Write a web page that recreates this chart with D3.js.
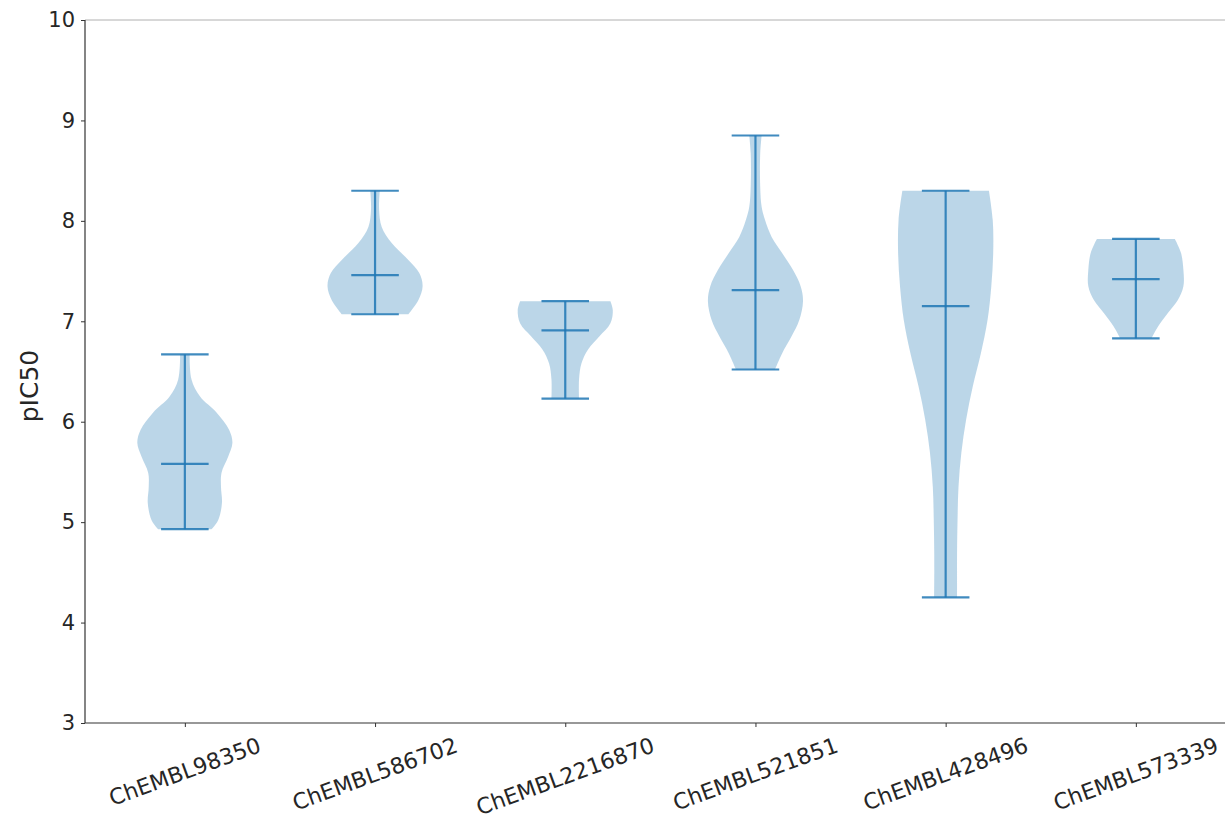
<!DOCTYPE html>
<html>
<head>
<meta charset="utf-8">
<script src="https://cdn.jsdelivr.net/npm/d3@7"></script>
<style>
  html, body { margin: 0; padding: 0; background: #fff; }
  text { font-family: "DejaVu Sans", sans-serif; fill: #262626; }
</style>
</head>
<body>
<svg id="chart" width="1225" height="819"></svg>
<script>
// Compounds on the x axis
const compounds = ["ChEMBL98350", "ChEMBL586702", "ChEMBL2216870", "ChEMBL521851", "ChEMBL428496", "ChEMBL573339"];

// Summary statistics per compound (pIC50)
const minValues  = [4.93, 7.07, 6.23, 6.52, 4.25, 6.83];
const meanValues = [5.58, 7.46, 6.91, 7.31, 7.15, 7.42];
const maxValues  = [6.67, 8.30, 7.20, 8.85, 8.30, 7.82];

// Kernel density profile of each compound: [pIC50, density relative to its peak]
const density98350 = [[6.67,0.10],[6.42,0.14],[6.25,0.32],[6.09,0.67],[5.92,0.93],[5.79,1.00],[5.65,0.91],[5.49,0.77],[5.35,0.76],[5.19,0.78],[5.02,0.70],[4.93,0.56]];
const density586702 = [[8.30,0.10],[8.11,0.085],[7.94,0.14],[7.78,0.35],[7.61,0.70],[7.48,0.93],[7.35,1.00],[7.21,0.91],[7.07,0.70]];
const density2216870 = [[7.20,0.95],[7.11,1.00],[6.98,0.95],[6.85,0.72],[6.72,0.48],[6.58,0.34],[6.42,0.29],[6.23,0.29]];
const density521851 = [[8.85,0.13],[8.67,0.10],[8.34,0.10],[8.14,0.13],[8.01,0.20],[7.84,0.34],[7.68,0.56],[7.51,0.79],[7.35,0.95],[7.20,1.00],[7.01,0.92],[6.85,0.76],[6.68,0.56],[6.52,0.41]];
const density428496 = [[8.30,0.91],[8.01,0.99],[7.68,1.00],[7.35,0.96],[7.01,0.88],[6.68,0.74],[6.35,0.57],[6.02,0.43],[5.69,0.33],[5.35,0.27],[5.02,0.25],[4.69,0.24],[4.25,0.24]];
const density573339 = [[7.82,0.82],[7.68,0.95],[7.51,1.00],[7.35,1.00],[7.21,0.88],[7.08,0.67],[6.95,0.47],[6.83,0.33]];
const densityProfiles = [density98350, density586702, density2216870, density521851, density428496, density573339];

// Y axis ticks
const yTicks = [3, 4, 5, 6, 7, 8, 9, 10];

const svg = d3.select("#chart");
const plotLeft = 85, plotTop = 20, plotBottom = 723;
const violinWidth = 0.5;      // full width of a violin, in position units
const capWidth = violinWidth / 2;

// Positions 1..6 with 5% margins around the violin extents
const x = d3.scaleLinear().domain([0.475, 6.525]).range([plotLeft, plotLeft + 6.05 * 190.2]);
const y = d3.scaleLinear().domain([3, 10]).range([plotBottom, plotTop]);

const blue = "#1f77b4";

// Violin bodies
const area = d3.area()
  .curve(d3.curveCatmullRom.alpha(0.5))
  .y(d => y(d[0]));

densityProfiles.forEach((profile, i) => {
  const pos = i + 1;
  const half = violinWidth / 2;
  svg.append("path")
    .datum(profile)
    .attr("d", area
      .x0(d => x(pos - half * d[1]))
      .x1(d => x(pos + half * d[1])))
    .attr("fill", blue)
    .attr("fill-opacity", 0.3)
    .attr("stroke", "none");
});

// Extrema bars, caps and mean lines
const lineG = svg.append("g")
  .attr("stroke", blue)
  .attr("stroke-opacity", 0.85)
  .attr("stroke-width", 2.2);

compounds.forEach((c, i) => {
  const pos = i + 1;
  lineG.append("line")
    .attr("x1", x(pos)).attr("x2", x(pos))
    .attr("y1", y(minValues[i])).attr("y2", y(maxValues[i]));
  [minValues[i], maxValues[i], meanValues[i]].forEach(v => {
    lineG.append("line")
      .attr("x1", x(pos - capWidth / 2)).attr("x2", x(pos + capWidth / 2))
      .attr("y1", y(v)).attr("y2", y(v));
  });
});

// Spines
svg.append("line").attr("x1", plotLeft).attr("x2", 1225).attr("y1", plotTop).attr("y2", plotTop)
  .attr("stroke", "#b0b0b0").attr("stroke-width", 1);
svg.append("line").attr("x1", plotLeft).attr("x2", 1225).attr("y1", plotBottom).attr("y2", plotBottom)
  .attr("stroke", "#333").attr("stroke-width", 1.2);
svg.append("line").attr("x1", plotLeft).attr("x2", plotLeft).attr("y1", plotTop).attr("y2", plotBottom)
  .attr("stroke", "#333").attr("stroke-width", 1.2);

// Y axis
const yAxis = d3.axisLeft(y).tickValues(yTicks).tickSize(4).tickPadding(6).tickFormat(d3.format("d"));
const yG = svg.append("g").attr("transform", `translate(${plotLeft},0)`).call(yAxis);
yG.select(".domain").remove();
yG.selectAll(".tick line").attr("stroke", "#333");
yG.selectAll(".tick text").style("font-size", "21px").attr("fill", "#262626")
  .style("font-family", "'DejaVu Sans', sans-serif");

// X axis ticks
const xAxis = d3.axisBottom(x).tickValues(d3.range(1, compounds.length + 1)).tickSize(4).tickFormat("");
const xG = svg.append("g").attr("transform", `translate(0,${plotBottom})`).call(xAxis);
xG.select(".domain").remove();
xG.selectAll(".tick line").attr("stroke", "#333");

// Rotated category labels, top of the rotated box aligned below the ticks
const angle = 20 * Math.PI / 180;
const labelFont = 22;
compounds.forEach((c, i) => {
  const t = svg.append("text")
    .text(c)
    .attr("text-anchor", "middle")
    .attr("dominant-baseline", "central")
    .style("font-size", labelFont + "px");
  const L = t.node().getComputedTextLength();
  const H = L * Math.sin(angle) + labelFont * 1.0 * Math.cos(angle);
  const cy = plotBottom + 11 + H / 2;
  t.attr("transform", `translate(${x(i + 1)},${cy}) rotate(-20)`);
});

// Y axis title
svg.append("text")
  .text("pIC50")
  .attr("text-anchor", "middle")
  .attr("transform", `translate(38,386) rotate(-90)`)
  .style("font-size", "25px");
</script>
</body>
</html>
